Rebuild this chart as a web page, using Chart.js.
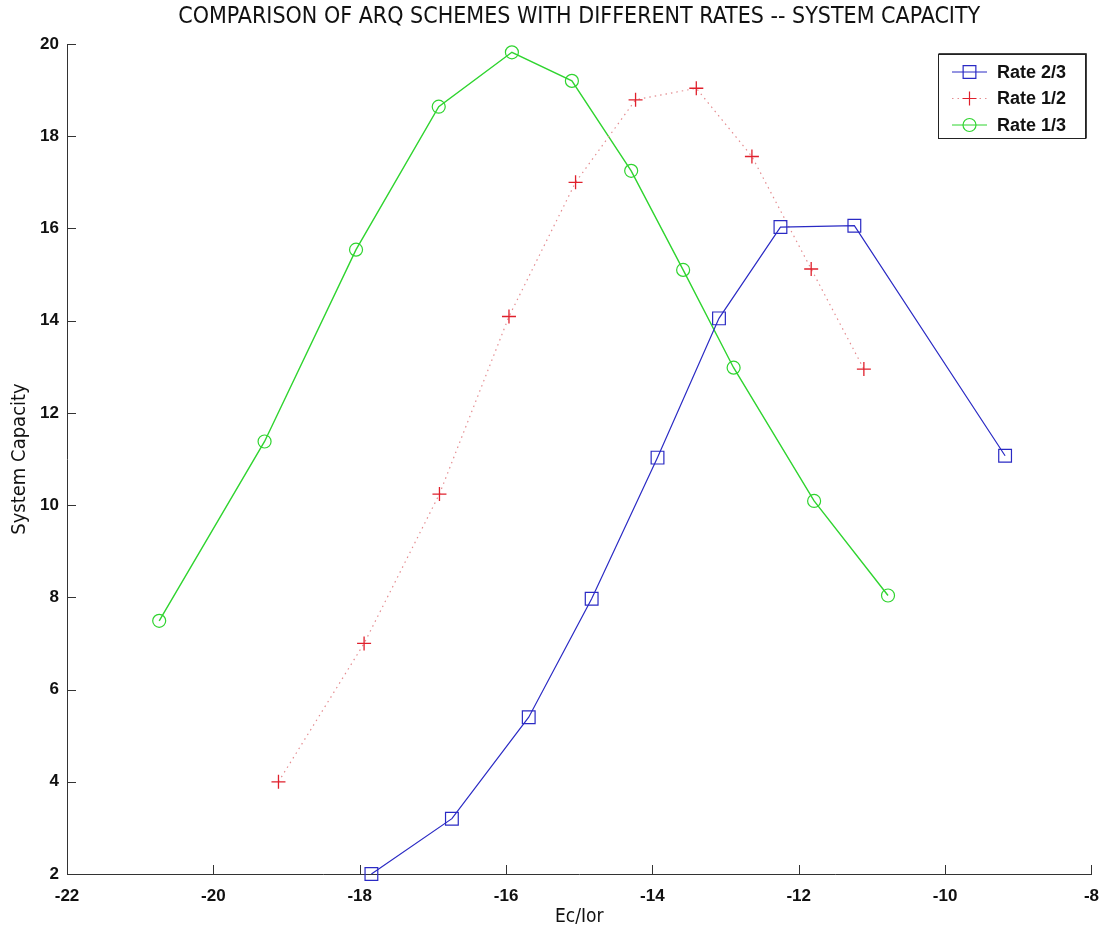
<!DOCTYPE html>
<html>
<head>
<meta charset="utf-8">
<title>ARQ schemes - system capacity</title>
<script src="https://cdn.jsdelivr.net/npm/chart.js@4.4.1/dist/chart.umd.min.js"></script>
<style>
  html, body { margin: 0; padding: 0; background: #fff; }
  #wrap { position: relative; width: 1111px; height: 934px; }
</style>
</head>
<body>
<div id="wrap"><canvas id="chart" width="1111" height="934"></canvas></div>
<script>
  // valeurs
  const rate23X = [-17.84, -16.74, -15.69, -14.83, -13.93, -13.09, -12.25, -11.24, -9.18];
  const rate23Y = [2.0, 3.2, 5.4, 7.97, 11.03, 14.05, 16.03, 16.06, 11.07];
  const rate12X = [-19.11, -17.94, -16.91, -15.96, -15.05, -14.23, -13.4, -12.64, -11.83, -11.11];
  const rate12Y = [4.0, 7.0, 10.24, 14.09, 17.0, 18.79, 19.04, 17.56, 15.12, 12.95];
  const rate13X = [-20.74, -19.3, -18.05, -16.92, -15.92, -15.1, -14.29, -13.58, -12.89, -11.79, -10.78];
  const rate13Y = [7.49, 11.38, 15.54, 18.64, 19.82, 19.2, 17.25, 15.1, 12.98, 10.09, 8.04];

  const seriesNames = ['Rate 2/3', 'Rate 1/2', 'Rate 1/3'];
  const xTicks = [-22, -20, -18, -16, -14, -12, -10, -8];
  const yTicks = [2, 4, 6, 8, 10, 12, 14, 16, 18, 20];
  const chartTitle = 'COMPARISON OF ARQ SCHEMES WITH DIFFERENT RATES -- SYSTEM CAPACITY';

  const BLUE = '#2a2ac4';
  const RED = '#e0202c';
  const RED_LINE = '#e48c90';
  const GREEN = '#2fd42f';

  const NARROW = '"Liberation Sans Narrow", "DejaVu Sans Condensed", Arial, sans-serif';
  const SANS = '"Liberation Sans", Arial, sans-serif';

  const pts = (xs, ys) => xs.map((x, i) => ({ x, y: ys[i] }));

  // titre centré sur la zone de tracé (pas sur tout le canvas)
  const areaTitle = {
    id: 'areaTitle',
    afterDraw(chart) {
      const { ctx, chartArea: a } = chart;
      ctx.save();
      ctx.fillStyle = '#111';
      ctx.font = '23px ' + NARROW;
      ctx.textAlign = 'center';
      ctx.textBaseline = 'middle';
      ctx.fillText(chartTitle, (a.left + a.right) / 2, 17);
      ctx.restore();
    }
  };

  // petites graduations vers l'intérieur (style matlab)
  const innerTicks = {
    id: 'innerTicks',
    afterDraw(chart) {
      const { ctx, chartArea: a, scales: { x, y } } = chart;
      ctx.save();
      ctx.strokeStyle = '#333';
      ctx.lineWidth = 1;
      ctx.beginPath();
      xTicks.forEach((v) => {
        const px = Math.round(x.getPixelForValue(v)) + 0.5;
        ctx.moveTo(px, a.bottom);
        ctx.lineTo(px, a.bottom - 9);
      });
      yTicks.forEach((v) => {
        const py = Math.round(y.getPixelForValue(v)) + 0.5;
        ctx.moveTo(a.left, py);
        ctx.lineTo(a.left + 9, py);
      });
      ctx.stroke();
      ctx.restore();
    }
  };

  // légende encadrée dans le coin haut droit
  const boxLegend = {
    id: 'boxLegend',
    afterDraw(chart) {
      const { ctx } = chart;
      const bx = 938.5, by = 54.5, bw = 147, bh = 84;
      ctx.save();
      ctx.fillStyle = '#fff';
      ctx.fillRect(bx, by, bw, bh);
      ctx.strokeStyle = '#222';
      ctx.lineWidth = 1;
      ctx.strokeRect(bx, by, bw, bh);
      // bord un peu plus marqué en haut et à droite
      ctx.strokeStyle = '#444';
      ctx.beginPath();
      ctx.moveTo(bx, by - 1); ctx.lineTo(bx + bw + 1, by - 1); ctx.lineTo(bx + bw + 1, by + bh);
      ctx.stroke();

      chart.data.datasets.forEach((ds, i) => {
        const cy = 72 + i * 26.5;
        ctx.strokeStyle = ds.borderColor;
        ctx.lineWidth = 1;
        ctx.setLineDash(ds.borderDash || []);
        ctx.beginPath();
        ctx.moveTo(952, cy);
        ctx.lineTo(987, cy);
        ctx.stroke();
        ctx.setLineDash([]);
        ctx.fillStyle = 'rgba(0,0,0,0)';
        ctx.strokeStyle = ds.pointBorderColor;
        ctx.lineWidth = 1.2;
        Chart.helpers.drawPoint(ctx, {
          pointStyle: ds.pointStyle,
          radius: ds.pointRadius,
          borderWidth: 1.2
        }, 969.5, cy);
        ctx.fillStyle = '#111';
        ctx.font = 'bold 18px ' + SANS;
        ctx.textBaseline = 'middle';
        ctx.fillText(ds.label, 997, cy + 1);
      });
      ctx.restore();
    }
  };

  new Chart(document.getElementById('chart'), {
    type: 'scatter',
    data: {
      datasets: [
        {
          label: seriesNames[0],
          data: pts(rate23X, rate23Y),
          showLine: true,
          borderColor: BLUE,
          borderWidth: 1.2,
          pointStyle: 'rect',
          pointRadius: 9,
          pointBorderColor: BLUE,
          pointBackgroundColor: 'rgba(0,0,0,0)',
          pointBorderWidth: 1.2,
          clip: false
        },
        {
          label: seriesNames[1],
          data: pts(rate12X, rate12Y),
          showLine: true,
          borderColor: RED_LINE,
          borderWidth: 1.2,
          borderDash: [1.5, 4],
          pointStyle: 'cross',
          pointRadius: 7,
          pointBorderColor: RED,
          pointBackgroundColor: 'rgba(0,0,0,0)',
          pointBorderWidth: 1.3,
          clip: false
        },
        {
          label: seriesNames[2],
          data: pts(rate13X, rate13Y),
          showLine: true,
          borderColor: GREEN,
          borderWidth: 1.4,
          pointStyle: 'circle',
          pointRadius: 6.5,
          pointBorderColor: GREEN,
          pointBackgroundColor: 'rgba(0,0,0,0)',
          pointBorderWidth: 1.2,
          clip: false
        }
      ]
    },
    options: {
      responsive: false,
      animation: false,
      events: [],
      layout: { padding: { top: 44, right: 17, bottom: 0, left: 0 } },
      plugins: {
        legend: { display: false },
        tooltip: { enabled: false },
        title: { display: false }
      },
      scales: {
        x: {
          type: 'linear',
          min: xTicks[0],
          max: xTicks[xTicks.length - 1],
          afterBuildTicks: (s) => { s.ticks = xTicks.map((v) => ({ value: v })); },
          afterFit: (s) => { s.height = 60; },
          grid: { display: false, tickLength: 0 },
          border: { display: true, color: '#333', width: 1 },
          ticks: {
            color: '#111',
            padding: 12,
            maxRotation: 0,
            font: { family: SANS, size: 17, weight: 'bold' }
          },
          title: {
            display: true,
            text: 'Ec/Ior',
            color: '#111',
            font: { family: NARROW, size: 19 },
            padding: { top: 0, bottom: 6 }
          }
        },
        y: {
          type: 'linear',
          min: yTicks[0],
          max: yTicks[yTicks.length - 1],
          afterBuildTicks: (s) => { s.ticks = yTicks.map((v) => ({ value: v })); },
          afterFit: (s) => { s.width = 67; },
          grid: { display: false, tickLength: 0 },
          border: { display: true, color: '#333', width: 1 },
          ticks: {
            color: '#111',
            padding: 8,
            font: { family: SANS, size: 17, weight: 'bold' }
          },
          title: {
            display: true,
            text: 'System Capacity',
            color: '#111',
            font: { family: NARROW, size: 20 },
            padding: { top: 8, bottom: 0 }
          }
        }
      }
    },
    plugins: [areaTitle, innerTicks, boxLegend]
  });
</script>
</body>
</html>
